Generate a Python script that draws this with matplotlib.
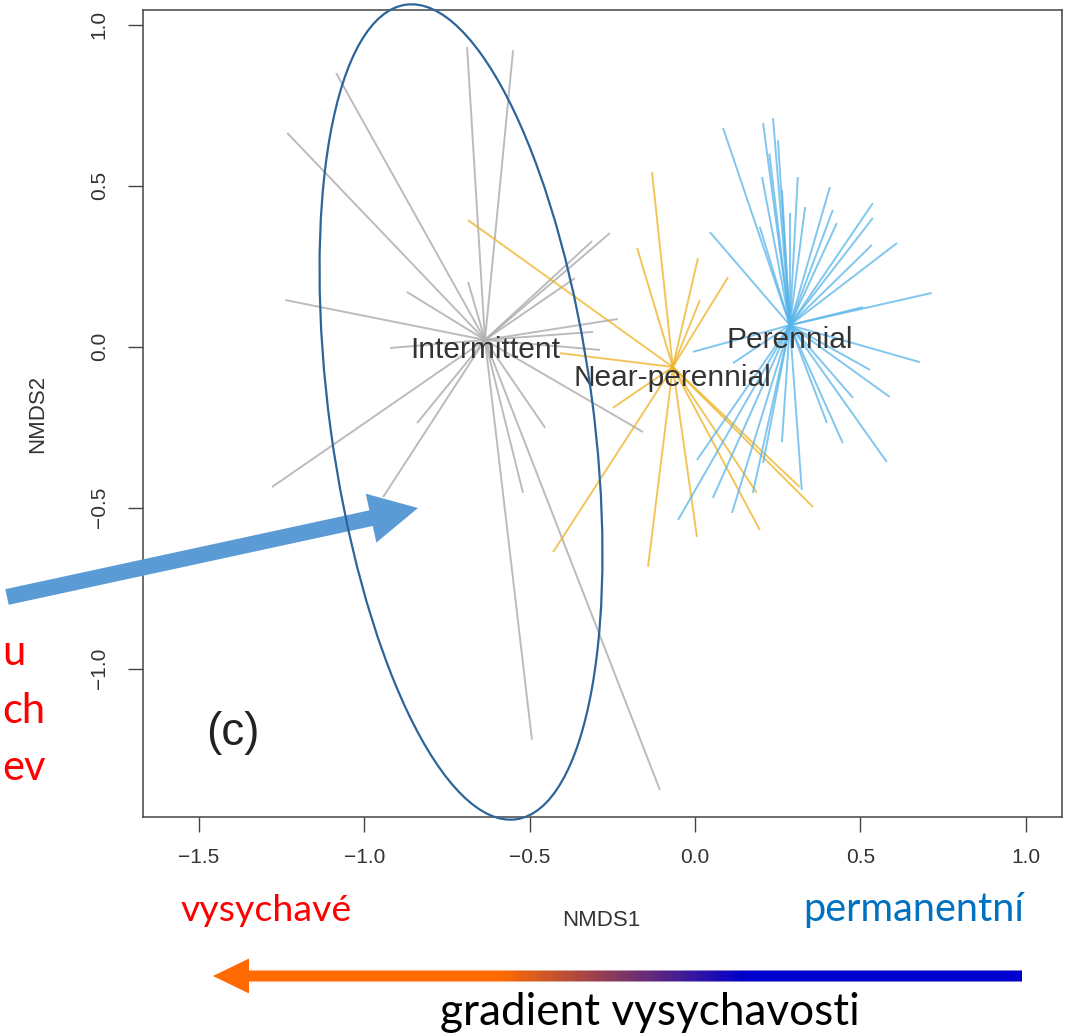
import matplotlib
matplotlib.use("Agg")
import matplotlib.pyplot as plt
import numpy as np
from matplotlib.patches import Ellipse, FancyArrow, Polygon

# ---------------- data (NMDS ordination, spider plot) ----------------
group_names = ["Intermittent", "Near-perennial", "Perennial"]
centroid_x = [-0.635, -0.067, 0.287]
centroid_y = [0.021, -0.063, 0.067]

intermittent_x = [-1.085, -1.233, -0.689, -0.550, -1.239, -0.871, -0.686, -0.257,
                  -0.311, -0.363, -0.233, -0.308, -0.287, -0.922, -1.279, -0.943,
                  -0.840, -0.453, -0.520, -0.493, -0.106, -0.157]
intermittent_y = [0.850, 0.664, 0.931, 0.921, 0.145, 0.170, 0.201, 0.353,
                  0.328, 0.213, 0.086, 0.046, -0.010, -0.004, -0.436, -0.467,
                  -0.237, -0.252, -0.454, -1.221, -1.377, -0.265]

near_perennial_x = [-0.686, -0.130, -0.175, 0.009, 0.100, 0.015, -0.408, -0.248,
                    -0.429, -0.142, 0.006, 0.196, 0.187, 0.357, 0.317]
near_perennial_y = [0.393, 0.543, 0.307, 0.275, 0.216, 0.145, -0.020, -0.190,
                    -0.638, -0.684, -0.591, -0.569, -0.454, -0.498, -0.436]

perennial_x = [0.085, 0.206, 0.236, 0.203, 0.263, 0.311, 0.287, 0.333, 0.408,
               0.417, 0.429, 0.538, 0.538, 0.535, 0.611, 0.716, 0.045, 0.508,
               0.196, 0.251, 0.680, 0.529, 0.589, 0.478, 0.580, 0.447, 0.399,
               0.323, 0.263, 0.206, 0.175, 0.112, 0.054, 0.006, -0.051, -0.006,
               0.115, 0.225]
perennial_y = [0.679, 0.695, 0.710, 0.527, 0.487, 0.527, 0.415, 0.434, 0.496,
               0.425, 0.384, 0.446, 0.400, 0.316, 0.322, 0.167, 0.356, 0.123,
               0.372, 0.641, -0.048, -0.072, -0.156, -0.159, -0.358, -0.299, -0.237,
               -0.445, -0.296, -0.361, -0.454, -0.516, -0.470, -0.352, -0.538, -0.016,
               -0.051, 0.600]

x_ticks = [-1.5, -1.0, -0.5, 0.0, 0.5, 1.0]
x_tick_labels = ["\u22121.5", "\u22121.0", "\u22120.5", "0.0", "0.5", "1.0"]
y_ticks = [-1.0, -0.5, 0.0, 0.5, 1.0]
y_tick_labels = ["\u22121.0", "\u22120.5", "0.0", "0.5", "1.0"]

x_label = "NMDS1"
y_label = "NMDS2"
panel_label = "(c)"
left_word = "vysychavé"
right_word = "permanentní"
gradient_label = "gradient vysychavosti"
cut_fragments = ["u", "ch", "ev"]

# ---------------- figure ----------------
W, H = 1076, 1036
fig = plt.figure(figsize=(W / 100, H / 100), dpi=100)
fig.patch.set_facecolor("white")

ax_l, ax_r, ax_t, ax_b = 142.7, 1061.7, 10.0, 817.0
ax = fig.add_axes([ax_l / W, 1 - ax_b / H, (ax_r - ax_l) / W, (ax_b - ax_t) / H])
ax.set_xlim(-1.670, 1.109)
ax.set_ylim(-1.461, 1.046)

chart_font = "Liberation Sans"
group_colors = ["#b0b0b0", "#eeb224", "#56b4e9"]
group_alpha = [0.85, 0.75, 0.75]
group_x = [intermittent_x, near_perennial_x, perennial_x]
group_y = [intermittent_y, near_perennial_y, perennial_y]

for gi in range(3):
    cx, cy = centroid_x[gi], centroid_y[gi]
    for ex, ey in zip(group_x[gi], group_y[gi]):
        ax.plot([cx, ex], [cy, ey], color=group_colors[gi], lw=1.4,
                alpha=group_alpha[gi], solid_capstyle="butt", zorder=2)

label_dy = [-0.03, -0.035, -0.045]
for gi, name in enumerate(group_names):
    ax.text(centroid_x[gi], centroid_y[gi] + label_dy[gi], name, ha="center", va="center",
            fontsize=21.5, color="#333333", family=chart_font, zorder=4)

ax.text(0.098, 0.104, panel_label, transform=ax.transAxes, ha="center", va="center",
        fontsize=33, color="#222222", family=chart_font)

ax.set_xticks(x_ticks)
ax.set_xticklabels(x_tick_labels, family=chart_font, fontsize=15, color="#333333")
ax.set_yticks(y_ticks)
ax.set_yticklabels(y_tick_labels, family=chart_font, fontsize=15, color="#333333",
                   rotation=90, va="center")
ax.tick_params(axis="both", direction="out", length=10.5, width=1.0, color="#444444")
ax.tick_params(axis="x", pad=12)
ax.tick_params(axis="y", pad=14)
for s in ax.spines.values():
    s.set_color("#444444")
    s.set_linewidth(1.1)

ax.set_xlabel(x_label, family=chart_font, fontsize=16, color="#333333")
ax.xaxis.set_label_coords((601 - ax_l) / (ax_r - ax_l), (ax_b - 920) / (ax_b - ax_t))
ax.xaxis.label.set_va("center")
ax.set_ylabel(y_label, family=chart_font, fontsize=16, color="#333333")
ax.yaxis.set_label_coords((38 - ax_l) / (ax_r - ax_l), 0.5)
ax.yaxis.label.set_va("center")

# ---------------- overlay (annotations in pixel space) ----------------
ov = fig.add_axes([0, 0, 1, 1], zorder=5)
ov.patch.set_alpha(0)
ov.axis("off")

# gradient arrow
shaft_top, shaft_bot = 970.5, 981.5
head_top, head_bot = 958.5, 993.5
tip_x, base_x, right_x = 213, 249, 1022
tip_y = (shaft_top + shaft_bot) / 2
arrow_pts = [(right_x, shaft_top), (base_x, shaft_top), (base_x, head_top), (tip_x, tip_y),
             (base_x, head_bot), (base_x, shaft_bot), (right_x, shaft_bot)]
poly = Polygon(arrow_pts, closed=True, facecolor="none", edgecolor="none")
ov.add_patch(poly)
xs = np.linspace(tip_x, right_x, 800)
orange = np.array([1.0, 0.42, 0.0])
blue = np.array([0.0, 0.0, 0.80])
t = np.clip((xs - 500) / (745 - 500), 0, 1)[:, None]
grad = (orange * (1 - t) + blue * t)[None, :, :]
im = ov.imshow(grad, extent=(tip_x, right_x, head_bot, head_top), aspect="auto",
               interpolation="bilinear", zorder=3)
im.set_clip_path(poly)

# big blue arrow
ov.add_patch(FancyArrow(7, 597, 411, -89, width=16, head_width=50, head_length=48,
                        length_includes_head=True, color="#5b9bd5", lw=0, zorder=4))
# ellipse
ov.add_patch(Ellipse((461, 412), width=822, height=263, angle=82.3, fill=False,
                     edgecolor="#2e6599", lw=1.6, zorder=5))

ov.set_xlim(0, W)
ov.set_ylim(H, 0)

ann_font = "Lato"
t1 = ov.text(181, 921, left_word, color="#ff0000", fontsize=24, family=ann_font,
             ha="left", va="baseline")
t2 = ov.text(1024, 921, right_word, color="#0070c0", fontsize=24, family=ann_font,
             ha="right", va="baseline")
t3 = ov.text(650, 1025, gradient_label, color="black", fontsize=28, family=ann_font,
             ha="center", va="baseline")
frag_base = [665, 723, 780]
for s, yb in zip(cut_fragments, frag_base):
    ov.text(2, yb, s, color="#ff0000", fontsize=30, family=ann_font, ha="left",
            va="baseline")

fig.canvas.draw()
r = fig.canvas.get_renderer()
for txt, target in [(t1, 171), (t2, 221), (t3, 420)]:
    w = txt.get_window_extent(r).width
    txt.set_fontsize(txt.get_fontsize() * target / w)

fig.savefig("out.png", dpi=100, facecolor="white")
